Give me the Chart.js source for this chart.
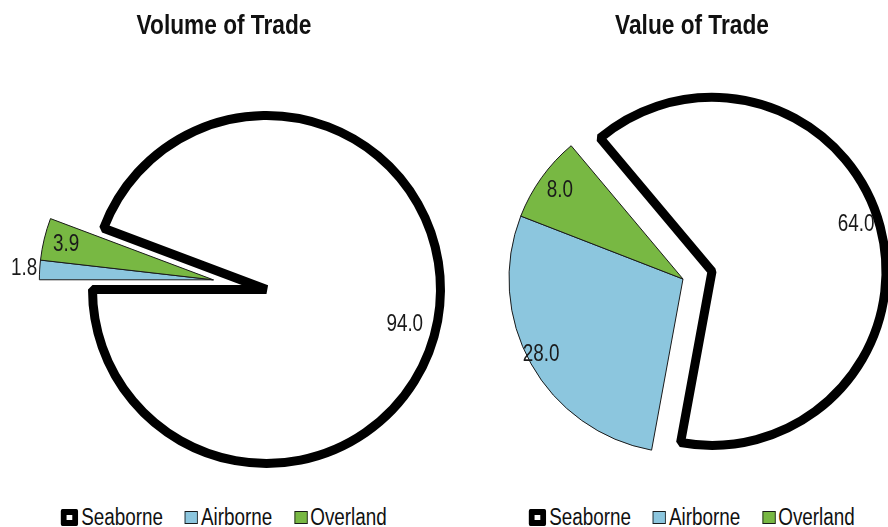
<!DOCTYPE html>
<html>
<head>
<meta charset="utf-8">
<title>Trade by mode of transport</title>
<script src="https://cdn.jsdelivr.net/npm/chart.js@4.4.1/dist/chart.umd.min.js"></script>
<style>
  html, body { margin: 0; padding: 0; background: #ffffff; }
  #stage { position: relative; width: 888px; height: 527px; overflow: hidden; background: #ffffff; }
  .panel { position: absolute; top: 0; width: 448px; height: 490px; }
  .panel canvas { display: block; }
  .title {
    position: absolute; top: 9px; width: 448px; height: 32px;
    text-align: center; white-space: nowrap;
    font-family: 'Liberation Sans', Arial, sans-serif; font-weight: bold;
    font-size: 27px; line-height: 32px; color: #111111;
    transform: scaleX(0.84); transform-origin: 224px 50%;
  }
  .legend {
    position: absolute; top: 503px; width: 448px; height: 28px;
    display: flex; justify-content: center; align-items: center;
    font-family: 'Liberation Sans', Arial, sans-serif;
    font-size: 23px; line-height: 28px; color: #111111;
    transform: scaleX(0.82); transform-origin: 224px 50%;
  }
  .legend .item { display: flex; align-items: center; margin: 0 13.4px; white-space: nowrap; }
  .legend .sw { box-sizing: border-box; flex: none; }
  .legend .lbl { margin-left: 3.7px; }
</style>
</head>
<body>
<div id="stage">
  <div class="panel" style="left:0px"><canvas id="volumeChart" width="448" height="490"></canvas></div>
  <div class="panel" style="left:468px"><canvas id="valueChart" width="448" height="490"></canvas></div>
  <div class="title" id="volumeTitle" style="left:0px"></div>
  <div class="title" id="valueTitle" style="left:468px"></div>
  <div class="legend" id="volumeLegend" style="left:0px"></div>
  <div class="legend" id="valueLegend" style="left:468px"></div>
</div>
<script>
// Shares of trade (%) by mode of transport
const categories = ['Seaborne', 'Airborne', 'Overland'];
const volumeShares = [94.0, 1.8, 3.9];
const valueShares = [64.0, 28.0, 8.0];
const chartTitles = ['Volume of Trade', 'Value of Trade'];

const FONT = "'Liberation Sans', Arial, sans-serif";
const NARROW = 0.82;   // horizontal squeeze giving a narrow face
const fillColors = ['#ffffff', '#8cc6de', '#78b843'];
const edgeColors = ['#000000', '#1a1a1a', '#1a1a1a'];
const edgeWidths = [9, 1, 1];

Chart.defaults.font.family = FONT;
Chart.defaults.color = '#111111';

// Places the pie inside the chart area, pulls selected slices out as one
// group along their shared middle angle, and writes the value labels.
const pieLayout = {
  id: 'pieLayout',
  afterDatasetUpdate(chart, args, opts) {
    const arcs = args.meta.data;
    const area = chart.chartArea;
    const cx = (area.left + area.right) / 2 + (opts.dx || 0);
    const cy = (area.top + area.bottom) / 2 + (opts.dy || 0);
    const group = opts.explode || [];
    let a0 = Infinity, a1 = -Infinity;
    group.forEach(i => {
      a0 = Math.min(a0, arcs[i].startAngle);
      a1 = Math.max(a1, arcs[i].endAngle);
    });
    const mid = (a0 + a1) / 2;
    arcs.forEach((arc, i) => {
      const out = group.includes(i) ? opts.distance : 0;
      arc.x = cx + Math.cos(mid) * out;
      arc.y = cy + Math.sin(mid) * out;
    });
  },
  afterDatasetDraw(chart, args, opts) {
    const ctx = chart.ctx;
    const arcs = args.meta.data;
    const values = chart.data.datasets[args.index].data;
    const place = opts.labels || [];
    ctx.save();
    ctx.font = '23px ' + FONT;
    ctx.fillStyle = '#1a1a1a';
    ctx.textAlign = 'center';
    ctx.textBaseline = 'middle';
    arcs.forEach((arc, i) => {
      const p = place[i] || { r: 0.8, turn: 0 };
      const ang = (arc.startAngle + arc.endAngle) / 2 + (p.turn || 0) * Math.PI / 180;
      const r = arc.outerRadius * p.r;
      const text = values[i].toFixed(1);
      const w = ctx.measureText(text).width * NARROW;
      ctx.fillText(text, arc.x + Math.cos(ang) * r, arc.y + Math.sin(ang) * r, w);
    });
    ctx.restore();
  }
};

function makePie(canvasId, titleId, legendId, title, shares, rotation, layout) {
  document.getElementById(titleId).textContent = title;

  const chart = new Chart(document.getElementById(canvasId), {
    type: 'pie',
    data: {
      labels: categories,
      datasets: [{
        data: shares,
        backgroundColor: fillColors,
        borderColor: edgeColors,
        borderWidth: edgeWidths,
        rotation: rotation,
        radius: 174
      }]
    },
    options: {
      responsive: false,
      animation: false,
      events: [],
      layout: { padding: 0 },
      plugins: {
        title: { display: false },
        legend: { display: false },
        tooltip: { enabled: false },
        pieLayout: layout
      }
    },
    plugins: [pieLayout]
  });

  // Legend built from the chart's own legend items
  const items = Chart.overrides.pie.plugins.legend.labels.generateLabels(chart);
  const box = document.getElementById(legendId);
  items.forEach(it => {
    const item = document.createElement('span');
    item.className = 'item';
    const sw = document.createElement('span');
    sw.className = 'sw';
    const heavy = it.lineWidth > 1;
    const size = heavy ? 17 : 13;
    const edge = heavy ? 6 : 1;
    sw.style.width = (size / NARROW) + 'px';
    sw.style.height = size + 'px';
    sw.style.background = it.fillStyle;
    sw.style.borderStyle = 'solid';
    sw.style.borderColor = it.strokeStyle;
    sw.style.borderWidth = edge + 'px ' + (edge / NARROW) + 'px';
    sw.style.borderRadius = heavy ? '2px' : '0';
    const lbl = document.createElement('span');
    lbl.className = 'lbl';
    lbl.textContent = it.text;
    item.appendChild(sw);
    item.appendChild(lbl);
    box.appendChild(item);
  });
  return chart;
}

makePie('volumeChart', 'volumeTitle', 'volumeLegend', chartTitles[0], volumeShares, -69.4, {
  dx: 42.5, dy: 44.5,
  explode: [1, 2], distance: 54,
  labels: [{ r: 0.82, turn: 4 }, { r: 1.09, turn: 0 }, { r: 0.87, turn: 0 }]
});

makePie('valueChart', 'valueTitle', 'valueLegend', chartTitles[1], valueShares, -40, {
  dx: -9, dy: 34,
  explode: [0], distance: 30,
  labels: [{ r: 0.87, turn: -3 }, { r: 0.925, turn: 1 }, { r: 0.87, turn: 0 }]
});
</script>
</body>
</html>
